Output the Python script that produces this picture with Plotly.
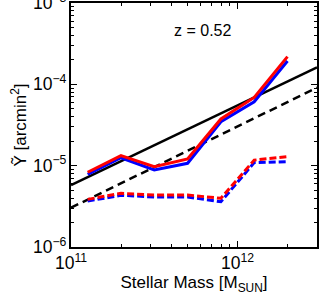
import numpy as np
import plotly.graph_objects as go

# Data
log_mass = [11.1, 11.3, 11.5, 11.7, 11.9, 12.1, 12.3]
mass = [10 ** v for v in log_mass]

red_solid = [8.3e-6, 1.33e-5, 9.7e-6, 1.21e-5, 3.75e-5, 6.9e-5, 2.19e-4]
blue_solid = [7.8e-6, 1.25e-5, 8.85e-6, 1.07e-5, 3.47e-5, 6.1e-5, 1.94e-4]
red_dashed = [3.85e-6, 4.57e-6, 4.36e-6, 4.36e-6, 3.97e-6, 1.17e-5, 1.29e-5]
blue_dashed = [3.67e-6, 4.32e-6, 4.12e-6, 4.12e-6, 3.6e-6, 1.09e-5, 1.12e-5]

ref_mass = [1e11, 3e12]
black_solid = [5.78e-6, 1.62e-4]
black_dashed = [3.04e-6, 9.1e-5]

FONT = "Liberation Sans, Arial, Helvetica, sans-serif"
XR = [11, np.log10(3e12)]
YR = [-6, -3]

fig = go.Figure()
fig.add_trace(go.Scatter(x=ref_mass, y=black_solid, mode="lines",
                         line=dict(color="black", width=2.5)))
fig.add_trace(go.Scatter(x=ref_mass, y=black_dashed, mode="lines",
                         line=dict(color="black", width=2.5, dash="8px,5px")))
fig.add_trace(go.Scatter(x=mass, y=blue_dashed, mode="lines",
                         line=dict(color="#0000ff", width=3, dash="7px,3px")))
fig.add_trace(go.Scatter(x=mass, y=red_dashed, mode="lines",
                         line=dict(color="#ff0000", width=3, dash="7px,3px")))
fig.add_trace(go.Scatter(x=mass, y=blue_solid, mode="lines",
                         line=dict(color="#0000ff", width=3)))
fig.add_trace(go.Scatter(x=mass, y=red_solid, mode="lines",
                         line=dict(color="#ff0000", width=3)))
# invisible trace to carry the minor-tick overlay axes
fig.add_trace(go.Scatter(x=[1e11], y=[1e-6], xaxis="x2", yaxis="y2",
                         mode="markers", marker=dict(opacity=0),
                         hoverinfo="skip"))


def minor_vals(lo, hi):
    vals = []
    for d in range(lo, hi):
        for m in range(2, 10):
            vals.append(m * 10.0 ** d)
    return vals


axis_common = dict(
    type="log", showgrid=False, zeroline=False, automargin=False,
    showline=True, linecolor="black", linewidth=1.5, mirror="allticks",
    ticks="inside", ticklen=6, tickwidth=1, tickcolor="black",
    exponentformat="power", dtick=1, ticklabeloverflow="allow",
    tickfont=dict(family=FONT, size=14, color="black"),
)
minor_common = dict(
    type="log", showgrid=False, zeroline=False, showline=False,
    automargin=False,
    ticks="inside", ticklen=3, tickwidth=1, tickcolor="black",
    mirror="allticks", showticklabels=False, tickmode="array",
)

fig.update_layout(
    xaxis=dict(**axis_common, range=XR,
               title=dict(text="Stellar Mass [M<sub>SUN</sub>]",
                          font=dict(family=FONT, size=17, color="black"),
                          standoff=4)),
    yaxis=dict(**axis_common, range=YR,
               title=dict(text="Ỹ [arcmin<sup>2</sup>]",
                          font=dict(family=FONT, size=17, color="black"),
                          standoff=2)),
    xaxis2=dict(**minor_common, range=XR, overlaying="x", anchor="y2",
                tickvals=minor_vals(11, 13)),
    yaxis2=dict(**minor_common, range=YR, overlaying="y", anchor="x2",
                tickvals=minor_vals(-6, -3)),
)

fig.add_annotation(x=0.41, y=0.889, xref="paper", yref="paper",
                   text="z = 0.52", showarrow=False, xanchor="left",
                   yanchor="middle",
                   font=dict(family=FONT, size=16, color="black"))

fig.update_layout(width=319, height=300, showlegend=False,
                  margin=dict(l=71, r=2, t=3, b=53),
                  paper_bgcolor="white", plot_bgcolor="white")

fig.write_html("out.html",
               config={"displayModeBar": False},
               post_script="document.body.style.margin='0px';"
                           "document.body.style.overflow='hidden';")
